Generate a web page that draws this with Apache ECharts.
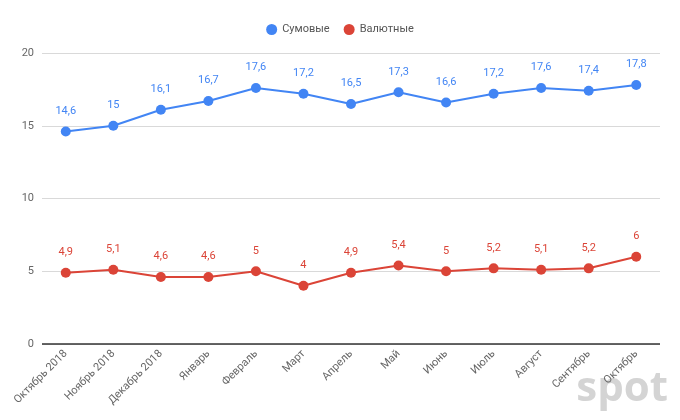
<!DOCTYPE html>
<html><head><meta charset="utf-8">
<script src="https://cdn.jsdelivr.net/npm/echarts@6/dist/echarts.min.js"></script>
<style>html,body{margin:0;padding:0;background:#fff}#c{width:680px;height:420px}</style>
</head><body><div id="c"></div>
<script>
const categories = ['Октябрь 2018','Ноябрь 2018','Декабрь 2018','Январь','Февраль','Март','Апрель','Май','Июнь','Июль','Август','Сентябрь','Октябрь'];
const sumValues = [14.6,15,16.1,16.7,17.6,17.2,16.5,17.3,16.6,17.2,17.6,17.4,17.8];
const valValues = [4.9,5.1,4.6,4.6,5,4,4.9,5.4,5,5.2,5.1,5.2,6];
const seriesNames = ['Сумовые','Валютные'];
const fmt = p => String(p.value).replace('.', ',');
const chart = echarts.init(document.getElementById('c'));
chart.setOption({
  animation:false,
  textStyle:{fontFamily:'Roboto'},
  legend:{top:19,left:'center',itemWidth:11,itemHeight:11,itemGap:14,icon:'circle',
    textStyle:{color:'#555',fontSize:11,fontFamily:'Roboto'},data:seriesNames},
  grid:{left:42,right:20,top:53,bottom:76},
  xAxis:{type:'category',data:categories,boundaryGap:true,
    axisLine:{show:false},axisTick:{show:false},
    axisLabel:{rotate:45,color:'#666',fontSize:11,interval:0,margin:8}},
  yAxis:{type:'value',min:0,max:20,interval:5,
    axisLabel:{color:'#666',fontSize:11,margin:8},
    splitLine:{lineStyle:{color:'#d9d9d9',width:1}}},
  graphic:[
    {type:'line',shape:{x1:42,y1:344,x2:660,y2:344},style:{stroke:'#333',lineWidth:1.5},z:10},
    {type:'text',right:12,bottom:10,style:{text:'spot',fontSize:42,fontWeight:'bold',fill:'#d4d4d4',fontFamily:'Open Sans'},z:0}
  ],
  series:[
    {name:seriesNames[0],type:'line',data:sumValues,symbol:'circle',symbolSize:10,
      itemStyle:{color:'#4285F4'},lineStyle:{width:2,color:'#4285F4'},
      label:{show:true,position:'top',distance:10,color:'#4285F4',fontSize:11,formatter:fmt}},
    {name:seriesNames[1],type:'line',data:valValues,symbol:'circle',symbolSize:10,
      itemStyle:{color:'#DB4437'},lineStyle:{width:2,color:'#DB4437'},
      label:{show:true,position:'top',distance:10,color:'#DB4437',fontSize:11,formatter:fmt}}
  ]
});
</script></body></html>
